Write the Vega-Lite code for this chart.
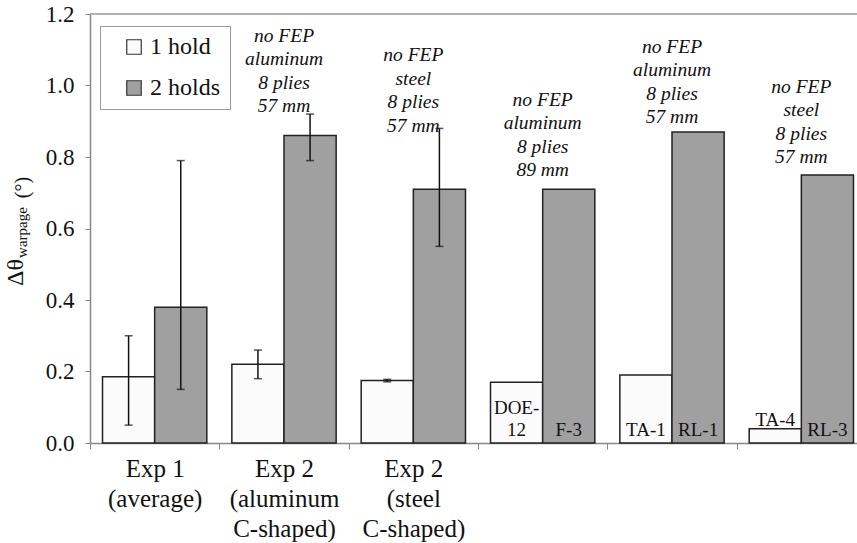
{
  "$schema": "https://vega.github.io/schema/vega-lite/v6.json",
  "width": 767,
  "height": 429,
  "autosize": {"type": "none"},
  "padding": {"left": 90, "top": 14, "right": 0, "bottom": 100},
  "background": "white",
  "config": {"view": {"stroke": null}, "font": "Liberation Serif"},
  "datasets": {
    "bars": [
      {"group": "Exp 1|(average)", "hold": "1 hold", "value": 0.185, "lo": 0.05, "hi": 0.30},
      {"group": "Exp 1|(average)", "hold": "2 holds", "value": 0.38, "lo": 0.15, "hi": 0.79},
      {"group": "Exp 2|(aluminum|C-shaped)", "hold": "1 hold", "value": 0.22, "lo": 0.18, "hi": 0.26},
      {"group": "Exp 2|(aluminum|C-shaped)", "hold": "2 holds", "value": 0.86, "lo": 0.79, "hi": 0.92},
      {"group": "Exp 2|(steel|C-shaped)", "hold": "1 hold", "value": 0.175, "lo": 0.171, "hi": 0.178},
      {"group": "Exp 2|(steel|C-shaped)", "hold": "2 holds", "value": 0.71, "lo": 0.55, "hi": 0.88},
      {"group": "DOE-12 / F-3", "hold": "1 hold", "value": 0.17, "label": ["DOE-", "12"], "pos": "in2"},
      {"group": "DOE-12 / F-3", "hold": "2 holds", "value": 0.71, "label": "F-3", "pos": "in"},
      {"group": "TA-1 / RL-1", "hold": "1 hold", "value": 0.19, "label": "TA-1", "pos": "in"},
      {"group": "TA-1 / RL-1", "hold": "2 holds", "value": 0.87, "label": "RL-1", "pos": "in"},
      {"group": "TA-4 / RL-3", "hold": "1 hold", "value": 0.04, "label": "TA-4", "pos": "above"},
      {"group": "TA-4 / RL-3", "hold": "2 holds", "value": 0.75, "label": "RL-3", "pos": "in"}
    ],
    "notes": [
      {"group": "Exp 2|(aluminum|C-shaped)", "note": ["no FEP", "aluminum", "8 plies", "57 mm"], "top": 1.164},
      {"group": "Exp 2|(steel|C-shaped)", "note": ["no FEP", "steel", "8 plies", "57 mm"], "top": 1.110},
      {"group": "DOE-12 / F-3", "note": ["no FEP", "aluminum", "8 plies", "89 mm"], "top": 0.985},
      {"group": "TA-1 / RL-1", "note": ["no FEP", "aluminum", "8 plies", "57 mm"], "top": 1.133},
      {"group": "TA-4 / RL-3", "note": ["no FEP", "steel", "8 plies", "57 mm"], "top": 1.021}
    ]
  },
  "layer": [
    {
      "data": {"values": [{}]},
      "mark": {"type": "rule", "color": "#999999", "strokeWidth": 1.5},
      "encoding": {"y": {"datum": 1.2, "type": "quantitative", "axis": null}}
    },
    {
      "data": {"name": "bars"},
      "mark": {"type": "bar", "stroke": "#222222", "strokeWidth": 1.5},
      "encoding": {
        "x": {
          "field": "group", "type": "nominal", "sort": null,
          "scale": {"paddingInner": 0, "paddingOuter": 0, "range": [0, 776]},
          "axis": {
            "title": null, "tickBand": "extent", "labelAngle": 0, "labelLimit": 0,
            "labelExpr": "indexof(datum.label, '|') >= 0 ? split(datum.label, '|') : ''",
            "labelFont": "Liberation Serif", "labelFontSize": 25, "labelLineHeight": 30,
            "labelColor": "#111111", "labelPadding": 7, "tickSize": 6, "tickColor": "#888888",
            "domainColor": "#888888", "domainWidth": 1.5
          }
        },
        "xOffset": {"field": "hold", "type": "nominal", "scale": {"paddingInner": 0, "paddingOuter": 0.24}},
        "y": {
          "field": "value", "type": "quantitative",
          "scale": {"domain": [0, 1.2], "nice": false},
          "axis": {
            "orient": "left", "title": "Δθ", "titleFont": "Liberation Serif", "titleFontSize": 24,
            "titleFontWeight": "normal", "titleColor": "#111111", "titleX": -75, "titleY": 258,
            "titleAngle": 270, "titleAlign": "center", "titleBaseline": "middle",
            "values": [0, 0.2, 0.4, 0.6, 0.8, 1.0, 1.2], "format": ".1f",
            "labelFont": "Liberation Serif", "labelFontSize": 23, "labelColor": "#111111",
            "labelPadding": 11, "tickSize": 5, "tickColor": "#888888",
            "domainColor": "#888888", "domainWidth": 1.5, "grid": false
          }
        },
        "color": {
          "field": "hold", "type": "nominal",
          "scale": {"domain": ["1 hold", "2 holds"], "range": ["#fbfbfb", "#a0a0a0"]},
          "legend": {
            "title": null, "orient": "none", "legendX": 10, "legendY": 12, "direction": "vertical",
            "strokeColor": "#999999", "fillColor": "white", "padding": 9,
            "symbolType": "square", "symbolSize": 210, "symbolStrokeColor": "#333333",
            "symbolStrokeWidth": 1.2, "symbolOffset": 13, "labelOffset": 4,
            "labelFont": "Liberation Serif", "labelFontSize": 24, "labelColor": "#111111",
            "rowPadding": 17, "labelExpr": "datum.label + '\u00a0\u00a0'"
          }
        }
      }
    },
    {
      "data": {"name": "bars"},
      "transform": [{"filter": "isValid(datum.lo)"}],
      "mark": {"type": "rule", "color": "#111111", "strokeWidth": 1.5},
      "encoding": {
        "x": {"field": "group", "type": "nominal", "sort": null},
        "xOffset": {"field": "hold", "type": "nominal"},
        "y": {
          "field": "lo", "type": "quantitative",
          "axis": {
            "orient": "left", "title": "warpage", "titleFont": "Liberation Serif", "titleFontSize": 15,
            "titleFontWeight": "normal", "titleColor": "#111111", "titleX": -68.5, "titleY": 218,
            "titleAngle": 270, "titleAlign": "center", "titleBaseline": "middle",
            "labels": false, "ticks": false, "domain": false, "grid": false
          }
        },
        "y2": {"field": "hi"}
      }
    },
    {
      "data": {"name": "bars"},
      "transform": [{"filter": "isValid(datum.lo)"}, {"fold": ["lo", "hi"], "as": ["end", "v"]}],
      "mark": {"type": "tick", "color": "#111111", "thickness": 1.5, "size": 8},
      "encoding": {
        "x": {"field": "group", "type": "nominal", "sort": null},
        "xOffset": {"field": "hold", "type": "nominal"},
        "y": {"field": "v", "type": "quantitative", "axis": null}
      }
    },
    {
      "data": {"name": "bars"},
      "transform": [{"filter": "datum.pos == 'in'"}],
      "mark": {"type": "text", "font": "Liberation Serif", "fontSize": 19, "color": "#111111", "baseline": "bottom", "dy": -3.5},
      "encoding": {
        "x": {"field": "group", "type": "nominal", "sort": null},
        "xOffset": {"field": "hold", "type": "nominal"},
        "y": {"datum": 0, "type": "quantitative", "axis": null},
        "text": {"field": "label"}
      }
    },
    {
      "data": {"name": "bars"},
      "transform": [{"filter": "datum.pos == 'in2'"}],
      "mark": {"type": "text", "font": "Liberation Serif", "fontSize": 19, "lineHeight": 22, "color": "#111111", "baseline": "bottom", "dy": -25.5},
      "encoding": {
        "x": {"field": "group", "type": "nominal", "sort": null},
        "xOffset": {"field": "hold", "type": "nominal"},
        "y": {"datum": 0, "type": "quantitative", "axis": null},
        "text": {"field": "label"}
      }
    },
    {
      "data": {"name": "bars"},
      "transform": [{"filter": "datum.pos == 'above'"}],
      "mark": {"type": "text", "font": "Liberation Serif", "fontSize": 19, "color": "#111111", "baseline": "bottom", "dy": 1},
      "encoding": {
        "x": {"field": "group", "type": "nominal", "sort": null},
        "xOffset": {"field": "hold", "type": "nominal"},
        "y": {"field": "value", "type": "quantitative", "axis": null},
        "text": {"field": "label"}
      }
    },
    {
      "data": {"name": "notes"},
      "mark": {"type": "text", "font": "Liberation Serif", "fontStyle": "italic", "fontSize": 19.5, "lineHeight": 23.5, "color": "#111111", "baseline": "top", "align": "center"},
      "encoding": {
        "x": {"field": "group", "type": "nominal", "sort": null},
        "y": {
          "field": "top", "type": "quantitative",
          "axis": {
            "orient": "left", "title": "(°)", "titleFont": "Liberation Serif", "titleFontSize": 20,
            "titleFontWeight": "normal", "titleColor": "#111111", "titleX": -67.5, "titleY": 173,
            "titleAngle": 270, "titleAlign": "center", "titleBaseline": "middle",
            "labels": false, "ticks": false, "domain": false, "grid": false
          }
        },
        "text": {"field": "note"}
      }
    }
  ],
  "resolve": {"axis": {"y": "independent"}}
}
